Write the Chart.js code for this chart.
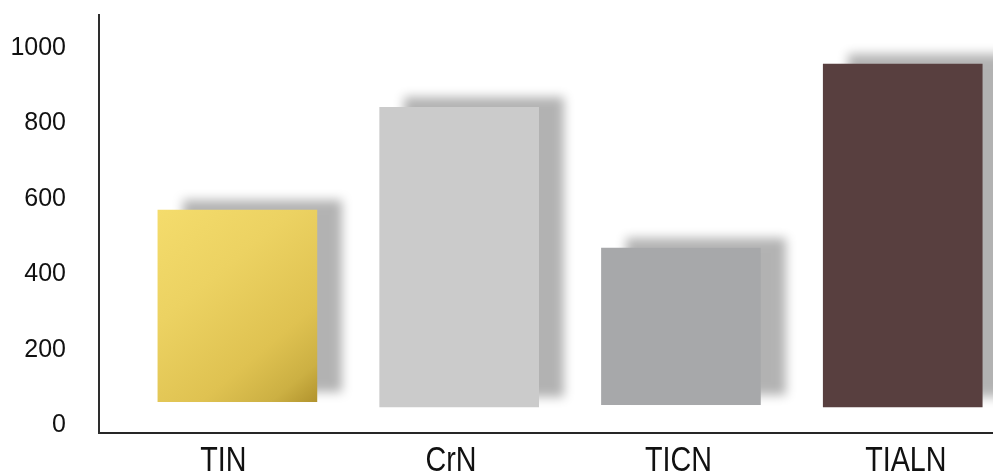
<!DOCTYPE html>
<html>
<head>
<meta charset="utf-8">
<script src="https://cdn.jsdelivr.net/npm/chart.js@4/dist/chart.umd.min.js"></script>
<style>
  html, body { margin: 0; padding: 0; background: #ffffff; overflow: hidden; }
  #wrap { width: 993px; height: 475px; }
</style>
</head>
<body>
<div id="wrap"><canvas id="chart" width="993" height="475"></canvas></div>
<script>
// Coating types and their floating ranges (low, high)
const categories = ['TIN', 'CrN', 'TICN', 'TIALN'];
const rangeLow  = [62, 48, 54, 48];
const rangeHigh = [570, 842, 469, 957];
const yTicks = [0, 200, 400, 600, 800, 1000];
const barColors = ['#e6c958', '#cbcbcb', '#a7a8aa', '#583f3f'];

// Gold gradient fill for the first bar
function barFill(ctx) {
  const i = ctx.dataIndex;
  const chart = ctx.chart;
  if (i !== 0 || !chart.chartArea || !chart.scales.x) return barColors[i];
  const xs = chart.scales.x, ys = chart.scales.y;
  const cx = xs.getPixelForValue(0);
  const top = ys.getPixelForValue(rangeHigh[0]);
  const bottom = ys.getPixelForValue(rangeLow[0]);
  const g = chart.ctx.createLinearGradient(cx - 80, top, cx + 80, bottom);
  g.addColorStop(0, '#f4dc6c');
  g.addColorStop(0.35, '#ecd262');
  g.addColorStop(0.7, '#dfc251');
  g.addColorStop(0.88, '#ccb043');
  g.addColorStop(1, '#b1932d');
  return g;
}

// Soft drop shadow cast up and to the right of each bar
const barShadow = {
  id: 'barShadow',
  beforeDatasetDraw(chart) {
    const c = chart.ctx;
    c.save();
    c.shadowColor = 'rgba(0,0,0,0.3)';
    c.shadowBlur = 10;
    c.shadowOffsetX = 25;
    c.shadowOffsetY = -10;
  },
  afterDatasetDraw(chart) {
    chart.ctx.restore();
  }
};

// Condensed category names under the axis
const narrowLabels = {
  id: 'narrowLabels',
  afterDraw(chart) {
    const s = chart.scales.labels;
    const c = chart.ctx;
    c.save();
    c.fillStyle = '#111111';
    c.font = "35px 'Liberation Sans', Arial, sans-serif";
    c.textAlign = 'center';
    c.textBaseline = 'alphabetic';
    categories.forEach((name, i) => {
      c.save();
      c.translate(s.getPixelForValue(i), 471);
      c.scale(0.82, 1);
      c.fillText(name, 0, 0);
      c.restore();
    });
    c.restore();
  }
};

function noPadding(scale) {
  scale.paddingTop = 0;
  scale.paddingBottom = 0;
  scale.paddingLeft = 0;
  scale.paddingRight = 0;
}

new Chart(document.getElementById('chart'), {
  type: 'bar',
  data: {
    datasets: [{
      data: categories.map((c, i) => ({ x: i, y: [rangeLow[i], rangeHigh[i]] })),
      backgroundColor: barFill,
      borderWidth: 0,
      barThickness: 159,
      xAxisID: 'x',
      yAxisID: 'y'
    }]
  },
  options: {
    responsive: false,
    animation: false,
    devicePixelRatio: 1,
    layout: { padding: { top: 15, left: 0, right: 0, bottom: 0 } },
    plugins: { legend: { display: false }, tooltip: { enabled: false } },
    scales: {
      x: {
        type: 'linear',
        display: false,
        offset: false,
        min: -0.624,
        max: 3.407,
        grid: { display: false }
      },
      labels: {
        type: 'linear',
        position: 'bottom',
        offset: false,
        min: -0.547,
        max: 3.383,
        afterBuildTicks(scale) { scale.ticks = categories.map((c, i) => ({ value: i })); },
        afterFit(scale) { scale.height = 42; noPadding(scale); },
        grid: { display: false, drawTicks: false },
        border: { display: true, color: '#262626', width: 2 },
        ticks: { display: false }
      },
      y: {
        type: 'linear',
        min: -21,
        max: 1087,
        afterBuildTicks(scale) { scale.ticks = yTicks.map(v => ({ value: v })); },
        afterFit(scale) { scale.width = 99; noPadding(scale); },
        grid: { display: false, drawTicks: false },
        border: { display: true, color: '#2e2e2e', width: 2 },
        ticks: {
          padding: 33,
          color: '#111111',
          font: { family: "'Liberation Sans', Arial, sans-serif", size: 25 },
          callback: (v) => String(v)
        }
      }
    }
  },
  plugins: [barShadow, narrowLabels]
});
</script>
</body>
</html>
